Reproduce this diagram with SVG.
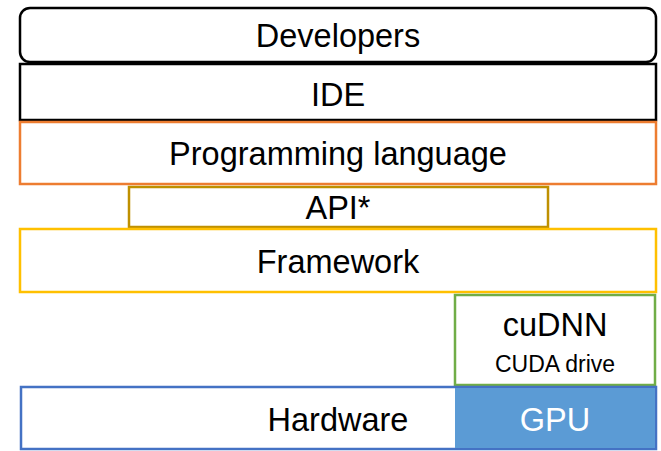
<svg xmlns="http://www.w3.org/2000/svg" width="661" height="451" viewBox="0 0 661 451">
<style>
text{font-family:"Liberation Sans",Arial,sans-serif;font-size:32.5px;fill:#000;text-anchor:middle}
rect{fill:#fff;stroke-width:2.5}
</style>
<rect width="661" height="451" fill="#fff" stroke="none"/>
<g id="developers"><rect x="20" y="8" width="636" height="54" rx="10" stroke="#000"/><text x="338" y="47">Developers</text></g>
<g id="ide"><rect x="20" y="64" width="636" height="56" stroke="#000"/><text x="338" y="106">IDE</text></g>
<g id="proglang"><rect x="20" y="122" width="636" height="62" stroke="#ED7D31"/><text x="338" y="165">Programming language</text></g>
<g id="api"><rect x="129" y="187" width="419" height="40" stroke="#BF9000"/><text x="338" y="219">API*</text></g>
<g id="framework"><rect x="20" y="229" width="636" height="63" stroke="#FFC000"/><text x="338" y="273">Framework</text></g>
<g id="cudnn"><rect x="455" y="295" width="200" height="90" stroke="#70AD47"/><text x="555" y="336">cuDNN</text><text x="555" y="372" style="font-size:23px">CUDA drive</text></g>
<g id="hardware"><rect x="21" y="387" width="635" height="62" stroke="#4472C4"/><rect x="455" y="388" width="200" height="60" style="fill:#5B9BD5;stroke:none"/><text x="338" y="431">Hardware</text><text x="555" y="431" style="fill:#fff">GPU</text></g>
<g id="connectors"/>
</svg>
